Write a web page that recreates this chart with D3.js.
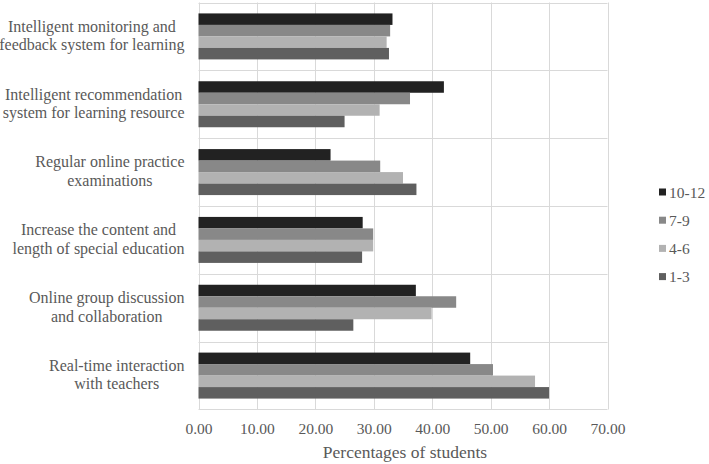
<!DOCTYPE html>
<html>
<head>
<meta charset="utf-8">
<script src="https://cdn.jsdelivr.net/npm/d3@7"></script>
<style>
  html, body { margin: 0; padding: 0; background: #fff; }
  svg { display: block; }
</style>
</head>
<body>
<svg id="chart" width="709" height="464"></svg>
<script>
const categories = [
  ["Intelligent monitoring and", "feedback system for learning"],
  ["Intelligent recommendation", "system for learning resource"],
  ["Regular online practice", "examinations"],
  ["Increase the content and", "length of special education"],
  ["Online group discussion", "and collaboration"],
  ["Real-time interaction", "with teachers"]
];
const seriesNames = ["10-12", "7-9", "4-6", "1-3"];
const values_10_12 = [33.2, 42.0, 22.6, 28.1, 37.2, 46.5];
const values_7_9   = [32.8, 36.2, 31.1, 29.9, 44.1, 50.4];
const values_4_6   = [32.2, 31.0, 35.0, 29.9, 39.9, 57.6];
const values_1_3   = [32.6, 25.0, 37.3, 28.0, 26.5, 60.0];
const xTicks = [0, 10, 20, 30, 40, 50, 60, 70];
const axisTitle = "Percentages of students";
const colors = ["#222222", "#888888", "#b2b2b2", "#5f5f5f"];

(function () {
const FONT = "Liberation Serif";
const TXT = "#595959";
const seriesValues = [values_10_12, values_7_9, values_4_6, values_1_3];
const svg = d3.select("#chart");
const pLeft = 198.5, pRight = 607.5, pTop = 2.5, pBottom = 409.5;

const x = d3.scaleLinear().domain([0, 70]).range([pLeft, pRight]);
const catIdx = categories.map((c, i) => i);
const y0 = d3.scaleBand().domain(catIdx).range([pTop, pBottom]).paddingInner(0).paddingOuter(0);
const y1 = d3.scaleBand().domain(seriesNames).range([0, y0.bandwidth()]).paddingInner(0).paddingOuter(0.95);

const grid = svg.append("g");
grid.selectAll("line.v").data(xTicks).join("line")
  .attr("x1", d => Math.round(x(d)) + 0.5).attr("x2", d => Math.round(x(d)) + 0.5)
  .attr("y1", pTop).attr("y2", pBottom)
  .attr("stroke", "#d9d9d9").attr("stroke-width", 1);
const hs = catIdx.map(i => y0(i)).concat([y0(catIdx[catIdx.length - 1]) + y0.bandwidth()]);
grid.selectAll("line.h").data(hs).join("line")
  .attr("x1", pLeft).attr("x2", pRight)
  .attr("y1", d => Math.round(d) + 0.5).attr("y2", d => Math.round(d) + 0.5)
  .attr("stroke", "#d9d9d9").attr("stroke-width", 1);

const bars = svg.append("g");
seriesNames.forEach((s, si) => {
  bars.selectAll("rect.s" + si).data(seriesValues[si]).join("rect")
    .attr("x", x(0))
    .attr("y", (d, i) => y0(i) + y1(s))
    .attr("width", d => x(d) - x(0))
    .attr("height", y1.bandwidth())
    .attr("fill", colors[si]);
});

const xAxis = d3.axisBottom(x).tickValues(xTicks).tickFormat(d3.format(".2f")).tickSize(0).tickPadding(13);
const ax = svg.append("g").attr("transform", `translate(0,${pBottom})`).call(xAxis);
ax.select(".domain").remove();
ax.attr("font-family", null).attr("font-size", null);
ax.selectAll("text").style("font-family", FONT).style("font-size", "15.5px").attr("fill", TXT);

svg.append("text").attr("x", (pLeft + pRight) / 2 + 2).attr("y", 458)
  .attr("text-anchor", "middle").style("font-family", FONT).style("font-size", "17.5px")
  .attr("fill", TXT).text(axisTitle);

const labelRight = 184.5;
const lg = svg.append("g");
categories.forEach((lines, i) => {
  const cy = y0(i) + y0.bandwidth() / 2;
  const g = lg.append("g");
  const t = lines.map((ln, k) => g.append("text")
    .style("font-family", FONT).style("font-size", "16px").attr("fill", TXT)
    .attr("text-anchor", "middle")
    .attr("y", cy + (k - (lines.length - 1) / 2) * 18.5 + 4.5)
    .text(ln));
  const maxW = d3.max(t, n => n.node().getComputedTextLength());
  t.forEach(n => n.attr("x", labelRight - maxW / 2));
});

const leg = svg.append("g");
seriesNames.forEach((s, i) => {
  const ly = 192 + i * 28.2;
  leg.append("rect").attr("x", 659).attr("y", ly - 3.5).attr("width", 7).attr("height", 7).attr("fill", colors[i]);
  leg.append("text").attr("x", 669).attr("y", ly + 5.5)
    .style("font-family", FONT).style("font-size", "15.5px").attr("fill", TXT).text(s);
});
})();
</script>
</body>
</html>
